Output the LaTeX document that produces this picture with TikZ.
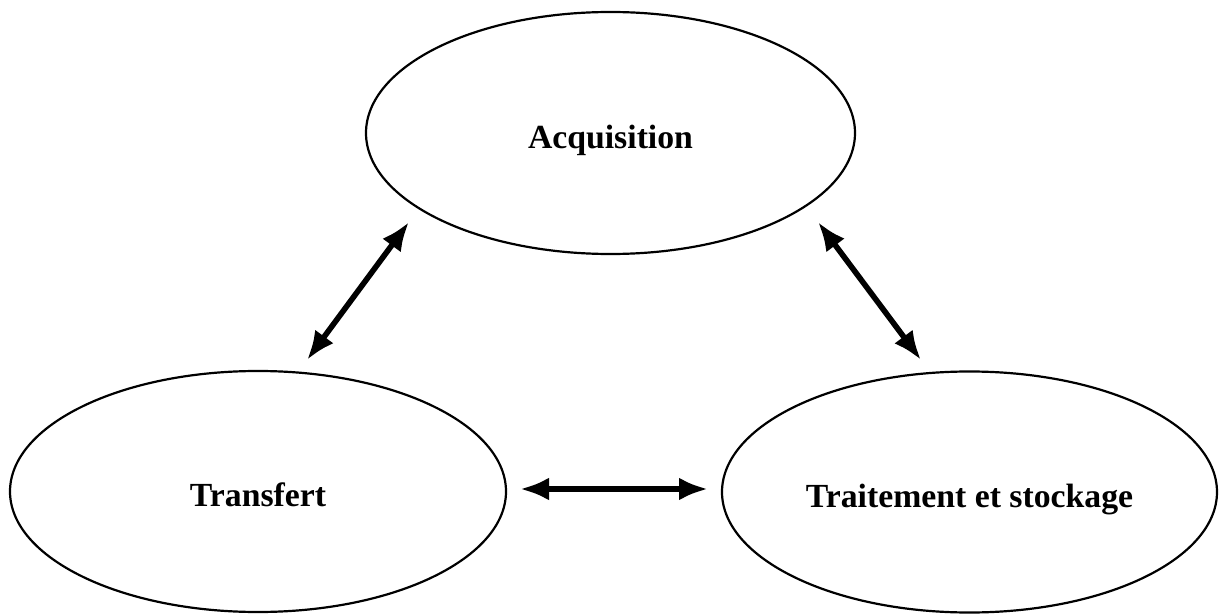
\documentclass[tikz,border=0pt]{standalone}
\usepackage{fontspec}
\setmainfont{Liberation Serif}
\usepackage{tikz}
\usetikzlibrary{arrows.meta}
\usetikzlibrary{shapes.geometric}

\tikzset{
    phase/.style={draw, ellipse, line width=1.25pt, inner sep=0pt,
        text height=0.6cm, text depth=0cm,
        font=\fontsize{19.2}{23}\selectfont\bfseries},
    echange/.style={line width=3.2pt, {Latex[length=5.8mm,width=4.6mm]}-{Latex[length=5.8mm,width=4.6mm]}}
}

\begin{document}
\begin{tikzpicture}
    \useasboundingbox (0,0) rectangle (24.38,-12.3);

    \node[phase, minimum width=9.78cm, minimum height=4.84cm] (acq) at (12.21,-2.66) {Acquisition};
    \node[phase, minimum width=9.92cm, minimum height=4.82cm] (transf) at (5.16,-9.83) {Transfert};
    \node[phase, minimum width=9.9cm, minimum height=4.82cm] (trait) at (19.39,-9.84) {Traitement et stockage};

    % bouts des fleches
    \coordinate (acqG) at (8.18,-4.44);
    \coordinate (transfH) at (6.14,-7.2);
    \coordinate (acqD) at (16.36,-4.44);
    \coordinate (traitH) at (18.42,-7.2);
    \coordinate (transfD) at (10.4,-9.78);
    \coordinate (traitG) at (14.16,-9.78);

    \draw[echange] (acqG) -- (transfH);
    \draw[echange] (acqD) -- (traitH);
    \draw[echange] (transfD) -- (traitG);
\end{tikzpicture}
\end{document}
